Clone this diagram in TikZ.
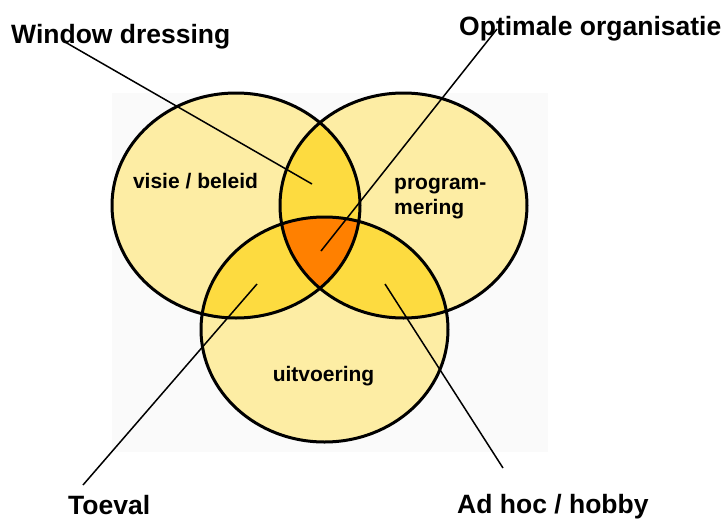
\documentclass[tikz,border=0pt]{standalone}
\usepackage{fontspec}
\setmainfont{Liberation Sans}
\definecolor{lightyel}{RGB}{253,237,164}
\definecolor{midyel}{RGB}{253,219,64}
\definecolor{orng}{RGB}{255,128,0}
\definecolor{bgpanel}{RGB}{250,250,250}
\begin{document}
\begin{tikzpicture}[x=1pt,y=-1pt,
  biglabel/.style={inner sep=0pt, anchor=base west, font=\bfseries\fontsize{26.5}{30}\selectfont},
  smalllabel/.style={inner sep=0pt, font=\bfseries\fontsize{21}{25}\selectfont},
  ring/.style={draw=black, line width=3pt},
  pointer/.style={draw=black, line width=1.5pt}]
\useasboundingbox (0,0) rectangle (724,520);
\fill[bgpanel] (112,93) rectangle (548,452);
% ellipses
\def\ellA{(236,205.5) ellipse [x radius=124, y radius=112.5]}
\def\ellB{(403.5,205.5) ellipse [x radius=123.5, y radius=112.5]}
\def\ellC{(324.5,329.5) ellipse [x radius=123.5, y radius=112.5]}
\fill[lightyel] \ellA;
\fill[lightyel] \ellB;
\fill[lightyel] \ellC;
\begin{scope}\clip \ellA; \fill[midyel] \ellB; \fill[midyel] \ellC; \end{scope}
\begin{scope}\clip \ellB; \fill[midyel] \ellC; \end{scope}
\begin{scope}\clip \ellA; \clip \ellB; \fill[orng] \ellC; \end{scope}
\draw[ring] \ellA;
\draw[ring] \ellB;
\draw[ring] \ellC;
% inner labels
\node[smalllabel, anchor=base] (visie) at (195.5,188) {visie / beleid};
\node[smalllabel, anchor=base west] (prog) at (394,189) {program-};
\node[smalllabel, anchor=base west] (mer) at (394,214) {mering};
\node[smalllabel, anchor=base] (uitv) at (323.5,381) {uitvoering};
% outer labels
\node[biglabel] (wd) at (11,43) {Window dressing};
\node[biglabel] (opt) at (459,35) {Optimale organisatie};
\node[biglabel] (toe) at (68,514) {Toeval};
\node[biglabel] (adh) at (457,513) {Ad hoc / hobby};
% pointer ends
\coordinate (wdS) at (65,42);
\coordinate (wdE) at (312,184);
\coordinate (optS) at (497,29);
\coordinate (optE) at (321,251);
\coordinate (toeS) at (83,485);
\coordinate (toeE) at (257,284);
\coordinate (adhS) at (503,468);
\coordinate (adhE) at (385,284);
\draw[pointer] (wdS) -- (wdE);
\draw[pointer] (optS) -- (optE);
\draw[pointer] (toeS) -- (toeE);
\draw[pointer] (adhS) -- (adhE);
\end{tikzpicture}
\end{document}
